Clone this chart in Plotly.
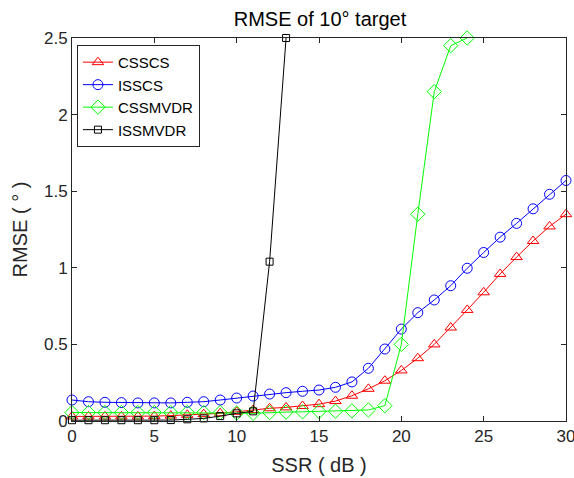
import plotly.graph_objects as go

ssr = list(range(0, 31))
csscs = [0.03, 0.03, 0.03, 0.03, 0.03, 0.032, 0.035, 0.04, 0.045, 0.05, 0.06,
         0.072, 0.083, 0.089, 0.098, 0.11, 0.13, 0.165, 0.21, 0.263, 0.33,
         0.41, 0.50, 0.61, 0.725, 0.84, 0.96, 1.07, 1.175, 1.27, 1.35]
isscs = [0.137, 0.126, 0.122, 0.12, 0.118, 0.118, 0.118, 0.122, 0.126, 0.137, 0.15,
         0.163, 0.176, 0.185, 0.194, 0.202, 0.22, 0.255, 0.344, 0.47, 0.60,
         0.707, 0.79, 0.883, 0.997, 1.10, 1.20, 1.29, 1.385, 1.48, 1.57]
ssr_mvdr_c = list(range(0, 25))
cssmvdr = [0.055, 0.055, 0.055, 0.055, 0.055, 0.055, 0.055, 0.055, 0.055, 0.055, 0.052,
           0.05, 0.055, 0.058, 0.06, 0.062, 0.064, 0.066, 0.072, 0.10, 0.50,
           1.35, 2.15, 2.45, 2.5]
ssr_mvdr_i = list(range(0, 14))
issmvdr = [0.005, 0.005, 0.005, 0.005, 0.005, 0.005, 0.006, 0.011, 0.017, 0.032, 0.05,
           0.063, 1.04, 2.5]

x_ticks = [0, 5, 10, 15, 20, 25, 30]
y_ticks = [0, 0.5, 1, 1.5, 2, 2.5]
y_tick_text = ["0", "0.5", "1", "1.5", "2", "2.5"]

FONT = "Liberation Sans, Arial, sans-serif"

fig = go.Figure()
series = [
    ("CSSCS", ssr, csscs, "#FF0000", "triangle-up-open", 10),
    ("ISSCS", ssr, isscs, "#0000FF", "circle-open", 10),
    ("CSSMVDR", ssr_mvdr_c, cssmvdr, "#00FF00", "diamond-open", 11),
    ("ISSMVDR", ssr_mvdr_i, issmvdr, "#000000", "square-open", 7),
]
for name, xs, ys, col, sym, sz in series:
    fig.add_trace(go.Scatter(
        x=xs, y=ys, name=name, mode="lines+markers",
        line=dict(color=col, width=1),
        marker=dict(symbol=sym, size=sz, color=col, line=dict(width=1, color=col)),
        cliponaxis=False,
    ))

axis_common = dict(
    showgrid=False, zeroline=False, showline=True, linecolor="#262626", linewidth=1,
    mirror="ticks", ticks="inside", ticklen=5, tickcolor="#262626", automargin=False,
    ticklabeloverflow="allow",
    tickfont=dict(family=FONT, size=17, color="#262626"),
)
fig.update_xaxes(range=[0, 30], tickvals=x_ticks,
                 title=dict(text="SSR ( dB )", font=dict(family=FONT, size=20, color="#262626"), standoff=12),
                 **axis_common)
fig.update_yaxes(range=[0, 2.5], tickvals=y_ticks, ticktext=y_tick_text,
                 title=dict(text="RMSE ( ° )", font=dict(family=FONT, size=20, color="#262626"), standoff=10),
                 **axis_common)

fig.update_layout(
    width=574, height=478,
    margin=dict(l=72, r=8, t=38, b=57, autoexpand=False),
    paper_bgcolor="white", plot_bgcolor="white",
    title=dict(text="RMSE of 10° target", x=320 / 574, xanchor="center", xref="container",
               y=1 - 19 / 478, yref="container", yanchor="middle", automargin=False,
               font=dict(family=FONT, size=20, color="#000000")),
    legend=dict(x=0.01, y=0.982, xanchor="left", yanchor="top",
                bgcolor="white", bordercolor="#262626", borderwidth=1,
                font=dict(family=FONT, size=15, color="#000000"),
                itemwidth=30, tracegroupgap=0),
    showlegend=True,
)

fig.write_html("out.html", config={"displayModeBar": False},
               post_script="document.body.style.margin='0';")
